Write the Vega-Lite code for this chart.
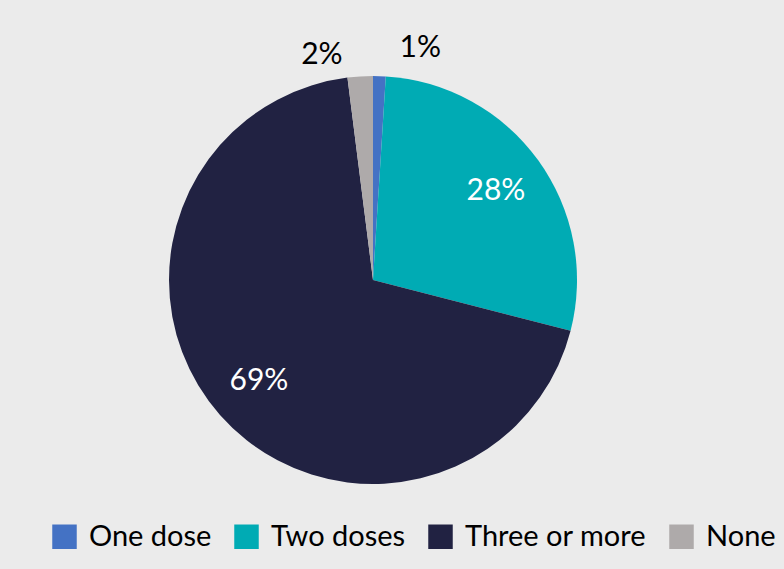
{
  "$schema": "https://vega.github.io/schema/vega-lite/v6.json",
  "width": 746,
  "height": 560,
  "padding": {"left": 0, "top": 0, "right": 38, "bottom": 9},
  "background": "#ebebeb",
  "data": {
    "values": [
      {"cat": "One dose", "pct": 1, "label": "1%", "k": 1},
      {"cat": "Two doses", "pct": 28, "label": "28%", "k": 2},
      {"cat": "Three or more", "pct": 69, "label": "69%", "k": 3},
      {"cat": "None", "pct": 2, "label": "2%", "k": 4}
    ]
  },
  "encoding": {
    "theta": {"field": "pct", "type": "quantitative", "stack": true},
    "order": {"field": "k", "type": "quantitative"}
  },
  "layer": [
    {
      "mark": {"type": "arc", "outerRadius": 204},
      "encoding": {
        "color": {
          "field": "cat",
          "type": "nominal",
          "sort": ["One dose", "Two doses", "Three or more", "None"],
          "scale": {
            "domain": ["One dose", "Two doses", "Three or more", "None"],
            "range": ["#4472c4", "#00abb4", "#212242", "#aeaaaa"]
          },
          "legend": {
            "orient": "none",
            "legendX": 50,
            "legendY": 522,
            "direction": "horizontal",
            "title": null,
            "labelFont": "Lato",
            "labelFontSize": 29,
            "labelColor": "#000000",
            "labelLimit": 400,
            "symbolType": "square",
            "symbolSize": 600,
            "symbolStrokeWidth": 0,
            "labelOffset": 10,
            "columnPadding": 20
          }
        }
      }
    },
    {
      "mark": {"type": "text", "radius": 152, "fontSize": 30, "font": "Lato", "fill": "#ffffff"},
      "encoding": {
        "text": {"condition": {"test": "datum.pct > 10", "field": "label"}, "value": ""}
      }
    },
    {
      "mark": {"type": "text", "radius": 232, "dx": 40, "fontSize": 30, "font": "Lato", "fill": "#000000"},
      "encoding": {
        "text": {"condition": {"test": "datum.cat === 'One dose'", "field": "label"}, "value": ""}
      }
    },
    {
      "mark": {"type": "text", "radius": 225, "dx": -37, "fontSize": 30, "font": "Lato", "fill": "#000000"},
      "encoding": {
        "text": {"condition": {"test": "datum.cat === 'None'", "field": "label"}, "value": ""}
      }
    }
  ],
  "config": {"view": {"stroke": null}}
}
